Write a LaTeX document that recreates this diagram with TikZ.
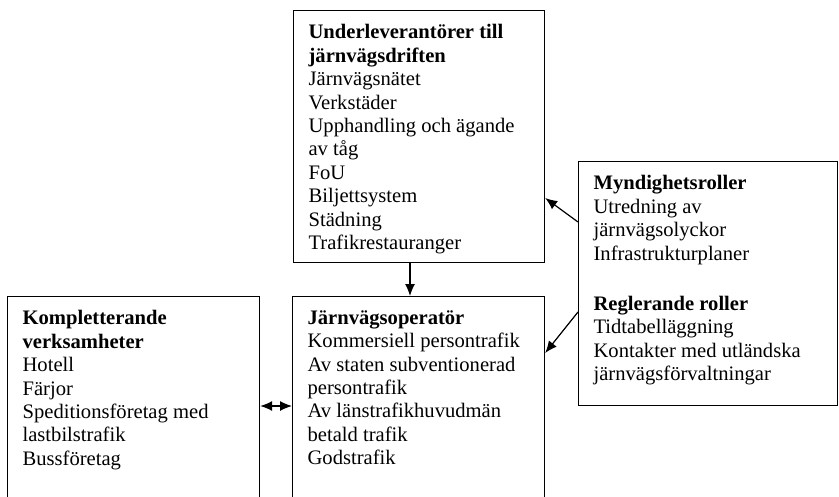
\documentclass[tikz,border=0pt]{standalone}
\usepackage{fontspec}
\setmainfont{Liberation Serif}
\usetikzlibrary{arrows.meta}

\begin{document}
\begin{tikzpicture}[x=1pt,y=-1pt,line width=1.2pt,
    >={Latex[length=12pt,width=10pt]},
    box/.style={draw,rectangle,anchor=north west,inner sep=0pt},
    txt/.style={anchor=north west,align=left,inner sep=0pt,
      font=\fontsize{20.6}{23.4}\selectfont}]
  \useasboundingbox (0,0) rectangle (839,496);
  \clip (0,0) rectangle (839,496);
  % boxes
  \node[box,minimum width=251,minimum height=252](sub)at(293,10){};
  \node[box,minimum width=252,minimum height=230](oper)at(292,296){};
  \node[box,minimum width=252,minimum height=230](kompl)at(7,296){};
  \node[box,minimum width=259,minimum height=244](mynd)at(578,161){};
  % texts
  \node[txt](subtxt)at([shift={(15,14)}]sub.north west){%
    \textbf{Underleverantörer till}\\ \textbf{järnvägsdriften}\\
    Järnvägsnätet\\ Verkstäder\\ Upphandling och ägande\\ av tåg\\
    FoU\\ Biljettsystem\\ Städning\\ Trafikrestauranger};
  \node[txt](opertxt)at([shift={(15,14)}]oper.north west){%
    \textbf{Järnvägsoperatör}\\ Kommersiell persontrafik\\
    Av staten subventionerad\\ persontrafik\\ Av länstrafikhuvudmän\\
    betald trafik\\ Godstrafik};
  \node[txt](kompltxt)at([shift={(15,14)}]kompl.north west){%
    \textbf{Kompletterande}\\ \textbf{verksamheter}\\ Hotell\\ Färjor\\
    Speditionsföretag med\\ lastbilstrafik\\ Bussföretag};
  \node[txt](myndtxt)at([shift={(15,14)}]mynd.north west){%
    \textbf{Myndighetsroller}\\ Utredning av\\ järnvägsolyckor\\
    Infrastrukturplaner\\[27pt] \textbf{Reglerande roller}\\
    Tidtabelläggning\\ Kontakter med utländska\\ järnvägsförvaltningar};
  % connectors
  \draw[->] (sub.south -| 410,0) -- (oper.north -| 410,0);
  \draw[->] (mynd.west |- 0,222) -- (sub.east |- 0,198);
  \draw[->] (mynd.west |- 0,312) -- (oper.east |- 0,353);
  \draw[<->] (kompl.east |- 0,406) -- (oper.west |- 0,406);
\end{tikzpicture}
\end{document}
